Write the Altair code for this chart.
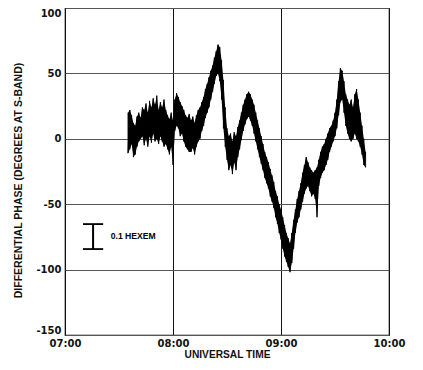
import json
import altair as alt
import pandas as pd

# ---- data -----------------------------------------------------------------
# minutes after 07:00 UT, upper and lower edge of the noisy phase trace (deg)
minutes = list(range(35, 168))
phase_hi = [
    20, 22, 18, 12, 10, 17, 20, 16, 24, 22,
    27, 20, 29, 24, 31, 26, 33, 22, 28, 24,
    30, 22, 18, 15, 20, 14, 30, 35, 32, 28,
    25, 22, 18, 16, 19, 14, 17, 12, 18, 22,
    24, 28, 32, 38, 42, 47, 52, 56, 62, 67,
    72, 70, 60, 45, 24, 8, 2, 4, -2, 5,
    2, 9, 14, 20, 26, 30, 34, 36, 34, 30,
    26, 20, 14, 8, 2, -4, -10, -14, -18, -23,
    -28, -33, -40, -44, -50, -54, -60, -66, -72, -76,
    -80, -72, -62, -54, -46, -40, -34, -26, -20, -14,
    -18, -22, -24, -26, -24, -22, -16, -10, -6, -4,
    0, 4, 8, 10, 14, 20, 30, 44, 54, 52,
    44, 34, 30, 26, 30, 24, 34, 38, 30, 20,
    10, 0, -10,
]
phase_lo = [
    -11, -8, -4, -14, -12, -6, -2, 0, 2, -5,
    0, -6, 2, -3, 4, -2, 0, -4, 2, -2,
    -6, -4, -8, -12, -6, -20, 6, 10, 8, 2,
    4, -2, -6, -8, -10, -10, -7, -12, -6, -2,
    0, 6, 10, 16, 20, 24, 30, 36, 42, 48,
    50, 44, 30, 8, -6, -16, -24, -20, -27, -18,
    -24, -14, -8, -1, 6, 11, 15, 17, 14, 10,
    4, -2, -8, -14, -19, -24, -30, -34, -38, -44,
    -48, -53, -60, -65, -72, -77, -84, -90, -94, -98,
    -102, -95, -84, -72, -64, -60, -54, -48, -42, -38,
    -36, -40, -44, -42, -46, -60, -36, -30, -26, -24,
    -20, -16, -10, -6, -2, 2, 8, 18, 28, 30,
    20, 10, 4, 0, -2, 0, 4, 0, -2, -6,
    -12, -20, -22,
]

x_ticks = [0, 60, 120, 180]
x_labels = ["07:00", "08:00", "09:00", "10:00"]
y_ticks = [-150, -100, -50, 0, 50, 100]
y_labels = ["-150", "-100", "-50", "0", "50", "100"]

# scale bar annotation ("0.1 HEXEM")
bar_t = [15.6]
bar_cap_t = [10.0]
bar_cap_t2 = [21.2]
bar_top = [-65.2]
bar_bottom = [-84.3]
bar_text = ["0.1 HEXEM"]
bar_text_t = [25.4]
bar_text_v = [-74.4]

# ---- tables ----------------------------------------------------------------
rows = []
for i, (t, h, l) in enumerate(zip(minutes, phase_hi, phase_lo)):
    rows.append({"t": t, "v": h, "k": 2 * i})
    rows.append({"t": t, "v": l, "k": 2 * i + 1})
trace = pd.DataFrame(rows)
band = pd.DataFrame({"t": minutes, "hi": phase_hi, "lo": phase_lo})

bar_df = pd.DataFrame({"t": bar_t, "top": bar_top, "bottom": bar_bottom})
caps_df = pd.DataFrame({
    "t": bar_cap_t * 2, "t2": bar_cap_t2 * 2, "v": bar_top + bar_bottom
})
text_df = pd.DataFrame({"t": bar_text_t, "v": bar_text_v, "txt": bar_text})

xscale = alt.Scale(domain=[0, 180], nice=False, zero=False)
yscale = alt.Scale(domain=[-150, 100], nice=False, zero=False)

x_expr = json.dumps(x_labels) + "[round(datum.value/60)]"
y_expr = json.dumps(y_labels) + "[round((datum.value+150)/50)]"

x_axis = alt.Axis(
    values=x_ticks, labelExpr=x_expr, title="UNIVERSAL TIME",
    grid=True, gridColor="#111111", gridWidth=1, gridOpacity=1,
    ticks=False, domain=False, labelPadding=3,
    labelFont="DejaVu Sans", labelFontSize=10, labelFontWeight="bold",
    labelColor="#111111", labelFlush=False,
    titleFont="Liberation Sans", titleFontSize=10.2, titleFontWeight="bold",
    titleColor="#111111", titleY=19, titleBaseline="middle",
)
y_axis = alt.Axis(
    values=y_ticks, labelExpr=y_expr,
    title="DIFFERENTIAL PHASE (DEGREES AT S-BAND)",
    grid=True, gridColor="#555555", gridWidth=1.2, gridOpacity=1,
    ticks=False, domain=False, labelPadding=4, labelFlush=True,
    labelFont="DejaVu Sans", labelFontSize=10, labelFontWeight="bold",
    labelColor="#111111",
    titleFont="Liberation Sans", titleFontSize=10.5, titleFontWeight="bold",
    titleColor="#111111", titleX=-47, titleY=172, titleAngle=270,
    titleBaseline="middle", titleAlign="center",
)

area = alt.Chart(band).mark_area(color="#000000", opacity=1).encode(
    x=alt.X("t:Q", scale=xscale, axis=x_axis),
    y=alt.Y("lo:Q", scale=yscale, axis=y_axis),
    y2="hi:Q",
)
line = alt.Chart(trace).mark_line(color="#000000", strokeWidth=0.9).encode(
    x=alt.X("t:Q", scale=xscale),
    y=alt.Y("v:Q", scale=yscale),
    order=alt.Order("k:Q"),
)

bar = alt.Chart(bar_df).mark_rule(color="#000000", strokeWidth=2).encode(
    x=alt.X("t:Q", scale=xscale),
    y=alt.Y("top:Q", scale=yscale),
    y2="bottom:Q",
)
caps = alt.Chart(caps_df).mark_rule(color="#000000", strokeWidth=1.8).encode(
    x=alt.X("t:Q", scale=xscale),
    x2="t2:Q",
    y=alt.Y("v:Q", scale=yscale),
)
label = alt.Chart(text_df).mark_text(
    align="left", baseline="middle", font="Liberation Sans",
    fontSize=8.6, fontWeight="bold", color="#000000",
).encode(
    x=alt.X("t:Q", scale=xscale),
    y=alt.Y("v:Q", scale=yscale),
    text="txt:N",
)

chart = alt.layer(area, line, bar, caps, label).properties(
    width=324, height=327,
    autosize=alt.AutoSizeParams(type="none"),
    padding={"left": 57, "top": 0, "right": 24, "bottom": 24},
    background="white",
).configure_view(stroke="#000000", strokeWidth=1.2)

chart.save("out.html", embed_options={"renderer": "svg", "actions": False})
